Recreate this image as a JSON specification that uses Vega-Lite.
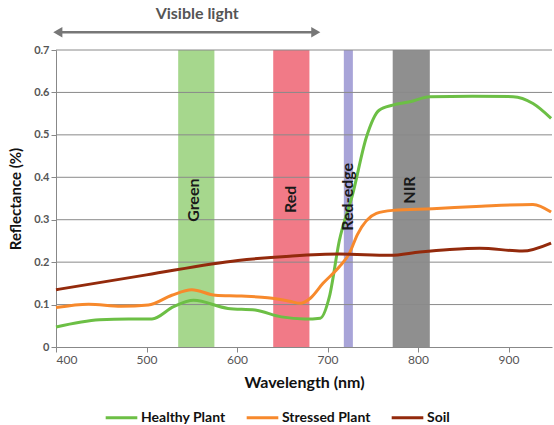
{
  "$schema": "https://vega.github.io/schema/vega-lite/v6.json",
  "width": 496,
  "height": 297,
  "autosize": {"type": "none"},
  "padding": {"left": 56, "top": 50, "right": 2, "bottom": 78},
  "background": "white",
  "config": {
    "view": {"stroke": null},
    "font": "Lato",
    "axis": {"labelFont": "Lato", "titleFont": "Lato"}
  },
  "datasets": {
    "spectra": [
      {"wl": 400, "r": 0.047, "s": "Healthy Plant"},
      {"wl": 448, "r": 0.064, "s": "Healthy Plant"},
      {"wl": 480, "r": 0.066, "s": "Healthy Plant"},
      {"wl": 506, "r": 0.066, "s": "Healthy Plant"},
      {"wl": 530, "r": 0.095, "s": "Healthy Plant"},
      {"wl": 552, "r": 0.110, "s": "Healthy Plant"},
      {"wl": 590, "r": 0.091, "s": "Healthy Plant"},
      {"wl": 620, "r": 0.087, "s": "Healthy Plant"},
      {"wl": 649, "r": 0.071, "s": "Healthy Plant"},
      {"wl": 675, "r": 0.066, "s": "Healthy Plant"},
      {"wl": 692, "r": 0.068, "s": "Healthy Plant"},
      {"wl": 702, "r": 0.118, "s": "Healthy Plant"},
      {"wl": 713, "r": 0.25, "s": "Healthy Plant"},
      {"wl": 728, "r": 0.362, "s": "Healthy Plant"},
      {"wl": 743, "r": 0.495, "s": "Healthy Plant"},
      {"wl": 757, "r": 0.558, "s": "Healthy Plant"},
      {"wl": 772, "r": 0.570, "s": "Healthy Plant"},
      {"wl": 791, "r": 0.578, "s": "Healthy Plant"},
      {"wl": 813, "r": 0.590, "s": "Healthy Plant"},
      {"wl": 860, "r": 0.591, "s": "Healthy Plant"},
      {"wl": 905, "r": 0.590, "s": "Healthy Plant"},
      {"wl": 927, "r": 0.574, "s": "Healthy Plant"},
      {"wl": 947, "r": 0.539, "s": "Healthy Plant"},

      {"wl": 400, "r": 0.093, "s": "Stressed Plant"},
      {"wl": 436, "r": 0.101, "s": "Stressed Plant"},
      {"wl": 472, "r": 0.096, "s": "Stressed Plant"},
      {"wl": 502, "r": 0.099, "s": "Stressed Plant"},
      {"wl": 528, "r": 0.122, "s": "Stressed Plant"},
      {"wl": 550, "r": 0.135, "s": "Stressed Plant"},
      {"wl": 576, "r": 0.122, "s": "Stressed Plant"},
      {"wl": 605, "r": 0.120, "s": "Stressed Plant"},
      {"wl": 634, "r": 0.116, "s": "Stressed Plant"},
      {"wl": 658, "r": 0.108, "s": "Stressed Plant"},
      {"wl": 670, "r": 0.103, "s": "Stressed Plant"},
      {"wl": 681, "r": 0.115, "s": "Stressed Plant"},
      {"wl": 695, "r": 0.150, "s": "Stressed Plant"},
      {"wl": 713, "r": 0.189, "s": "Stressed Plant"},
      {"wl": 724, "r": 0.220, "s": "Stressed Plant"},
      {"wl": 733, "r": 0.265, "s": "Stressed Plant"},
      {"wl": 754, "r": 0.315, "s": "Stressed Plant"},
      {"wl": 772, "r": 0.322, "s": "Stressed Plant"},
      {"wl": 816, "r": 0.326, "s": "Stressed Plant"},
      {"wl": 870, "r": 0.332, "s": "Stressed Plant"},
      {"wl": 927, "r": 0.336, "s": "Stressed Plant"},
      {"wl": 947, "r": 0.318, "s": "Stressed Plant"},

      {"wl": 400, "r": 0.135, "s": "Soil"},
      {"wl": 500, "r": 0.170, "s": "Soil"},
      {"wl": 601, "r": 0.204, "s": "Soil"},
      {"wl": 658, "r": 0.214, "s": "Soil"},
      {"wl": 713, "r": 0.219, "s": "Soil"},
      {"wl": 769, "r": 0.216, "s": "Soil"},
      {"wl": 802, "r": 0.224, "s": "Soil"},
      {"wl": 835, "r": 0.230, "s": "Soil"},
      {"wl": 868, "r": 0.233, "s": "Soil"},
      {"wl": 915, "r": 0.226, "s": "Soil"},
      {"wl": 947, "r": 0.245, "s": "Soil"}
    ],
    "bands": [
      {"band": "Green", "from": 535, "to": 575, "mid": 553, "ly": 0.346},
      {"band": "Red", "from": 640, "to": 680, "mid": 660, "ly": 0.348},
      {"band": "Red-edge", "from": 718, "to": 728, "mid": 723, "ly": 0.354},
      {"band": "NIR", "from": 772, "to": 813, "mid": 791, "ly": 0.37}
    ],
    "grid": [
      {"v": 0.1}, {"v": 0.2}, {"v": 0.3}, {"v": 0.4}, {"v": 0.5}, {"v": 0.6}, {"v": 0.7}
    ],
    "visible": [
      {"from": 402, "to": 687, "y": 0.742, "mid": 556, "ty": 0.785, "label": "Visible light"}
    ]
  },
  "layer": [
    {
      "data": {"name": "bands"},
      "mark": {"type": "rect"},
      "encoding": {
        "x": {"field": "from", "type": "quantitative", "scale": {"domain": [400, 948], "nice": false, "zero": false},
              "axis": {"values": [400, 500, 600, 700, 800, 900], "title": "Wavelength (nm)", "titleFontSize": 16, "titleFontWeight": "bold", "titleColor": "#111", "titlePadding": 9,
                       "labelFontSize": 12, "labelColor": "#555", "domainColor": "#888", "tickColor": "#888", "grid": false, "labelPadding": 2}},
        "x2": {"field": "to"},
        "y": {"datum": 0.7, "type": "quantitative"},
        "y2": {"datum": 0},
        "color": {"field": "band", "type": "nominal", "legend": null,
                  "scale": {"domain": ["Green", "Red", "Red-edge", "NIR"], "range": ["#a6d78d", "#f17a87", "#a8a4d8", "#8f8f8f"]}}
      }
    },
    {
      "data": {"name": "grid"},
      "mark": {"type": "rule", "color": "#8a8a8a", "strokeWidth": 1},
      "encoding": {
        "y": {"field": "v", "type": "quantitative", "scale": {"domain": [0, 0.7], "nice": false},
              "axis": {"values": [0, 0.1, 0.2, 0.3, 0.4, 0.5, 0.6, 0.7], "format": ".1~f", "title": "Reflectance (%)", "titleFontSize": 15, "titleFontWeight": "bold", "titleColor": "#111",
                       "labelFontSize": 11, "labelFontWeight": "bold", "labelColor": "#555", "domainColor": "#888", "tickColor": "#888", "grid": false, "titlePadding": 10}}
      }
    },
    {
      "data": {"name": "spectra"},
      "mark": {"type": "line", "interpolate": "monotone", "strokeWidth": 3},
      "encoding": {
        "x": {"field": "wl", "type": "quantitative"},
        "y": {"field": "r", "type": "quantitative"},
        "color": {"field": "s", "type": "nominal",
                  "scale": {"domain": ["Healthy Plant", "Stressed Plant", "Soil"], "range": ["#6cbf45", "#f7892c", "#932a0c"]},
                  "legend": {"orient": "none", "legendX": 48, "legendY": 350, "direction": "horizontal", "title": null,
                             "symbolType": "stroke", "symbolStrokeWidth": 3, "symbolSize": 1000, "labelFontSize": 14, "labelFontWeight": "bold", "labelColor": "#111", "columnPadding": 14, "labelOffset": 2}}
      }
    },
    {
      "data": {"name": "bands"},
      "mark": {"type": "text", "angle": 270, "fontSize": 16, "fontWeight": "bold", "color": "#1a1a1a", "align": "center", "baseline": "middle"},
      "encoding": {
        "x": {"field": "mid", "type": "quantitative"},
        "y": {"field": "ly", "type": "quantitative"},
        "text": {"field": "band"}
      }
    },
    {
      "data": {"name": "visible"},
      "mark": {"type": "rule", "color": "#777", "strokeWidth": 2.5, "clip": false},
      "encoding": {
        "x": {"field": "from", "type": "quantitative"},
        "x2": {"field": "to"},
        "y": {"field": "y", "type": "quantitative"}
      }
    },
    {
      "data": {"name": "visible"},
      "mark": {"type": "point", "shape": "triangle-left", "filled": true, "color": "#777", "size": 110, "opacity": 1},
      "encoding": {
        "x": {"field": "from", "type": "quantitative"},
        "y": {"field": "y", "type": "quantitative"}
      }
    },
    {
      "data": {"name": "visible"},
      "mark": {"type": "point", "shape": "triangle-right", "filled": true, "color": "#777", "size": 110, "opacity": 1},
      "encoding": {
        "x": {"field": "to", "type": "quantitative"},
        "y": {"field": "y", "type": "quantitative"}
      }
    },
    {
      "data": {"name": "visible"},
      "mark": {"type": "text", "fontSize": 16, "fontWeight": "bold", "color": "#555", "align": "center", "baseline": "middle"},
      "encoding": {
        "x": {"field": "mid", "type": "quantitative"},
        "y": {"field": "ty", "type": "quantitative"},
        "text": {"field": "label"}
      }
    }
  ],
  "resolve": {"scale": {"color": "independent"}}
}
